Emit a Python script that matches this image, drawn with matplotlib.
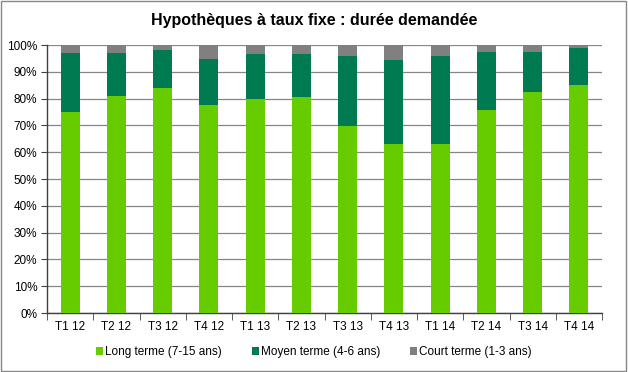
import matplotlib
matplotlib.use('Agg')
import matplotlib.pyplot as plt
import matplotlib.patches as patches
import numpy as np
from matplotlib.ticker import PercentFormatter, FixedLocator

plt.rcParams['font.family'] = ['Liberation Sans', 'DejaVu Sans']

# ── Data ──────────────────────────────────────────────────────────────────────
categories = ['T1 12', 'T2 12', 'T3 12', 'T4 12', 'T1 13', 'T2 13',
              'T3 13', 'T4 13', 'T1 14', 'T2 14', 'T3 14', 'T4 14']
long_terme  = [74.9, 81.1, 84.1, 77.7, 80.0, 80.7, 69.9, 63.2, 63.2, 75.9, 82.6, 85.2]
moyen_terme = [22.3, 16.1, 14.1, 17.2, 16.7, 16.0, 26.1, 31.3, 32.8, 21.6, 14.9, 13.8]
court_terme = [2.8, 2.8, 1.8, 5.1, 3.3, 3.3, 4.0, 5.5, 4.0, 2.5, 2.5, 1.0]
labels = ['Long terme (7-15 ans)', 'Moyen terme (4-6 ans)', 'Court terme (1-3 ans)']
colors = ['#66CC00', '#007A50', '#808080']

# ── Figure ────────────────────────────────────────────────────────────────────
fig = plt.figure(figsize=(6.28, 3.72), dpi=100, facecolor='white')
fig.patches.append(patches.Rectangle((0.002, 0.003), 0.995, 0.994, transform=fig.transFigure,
                                     fill=False, edgecolor='#888888', lw=1))
ax = fig.add_axes([47/628, 59/372, 555/628, 268/372])

x = np.arange(len(categories))
w = 0.41
bottom = np.zeros(len(categories))
for vals, lab, col in zip([long_terme, moyen_terme, court_terme], labels, colors):
    ax.bar(x, vals, w, bottom=bottom, color=col, label=lab, zorder=3)
    bottom += np.array(vals)

ax.set_xlim(-0.5, len(categories) - 0.5)
ax.set_ylim(0, 100)
ax.set_yticks(np.arange(0, 101, 10))
ax.yaxis.set_major_formatter(PercentFormatter(decimals=0))
ax.grid(axis='y', color='#868686', lw=0.9, zorder=0)
ax.set_xticks(x)
ax.set_xticklabels(categories)
ax.xaxis.set_minor_locator(FixedLocator(np.arange(-0.5, len(categories), 1)))
ax.tick_params(axis='x', which='major', length=0, pad=6, labelsize=8.5)
ax.tick_params(axis='x', which='minor', length=5, color='#404040', direction='out')
ax.tick_params(axis='y', length=4, color='#404040', labelsize=8.5, pad=3)
for s in ['top', 'right']:
    ax.spines[s].set_visible(False)
for s in ['left', 'bottom']:
    ax.spines[s].set_color('#404040')
    ax.spines[s].set_linewidth(1)

fig.text(0.5, 1 - 20/372, 'Hypothèques à taux fixe : durée demandée', ha='center', va='center',
         fontsize=11.5, fontweight='bold')

fig.legend(loc='center', bbox_to_anchor=(0.5, 1 - 352/372), ncol=3, frameon=False,
           fontsize=8.5, handlelength=0.6, handleheight=0.6, handletextpad=0.2, columnspacing=2.5)

fig.savefig('out.png', dpi=100, facecolor='white')
